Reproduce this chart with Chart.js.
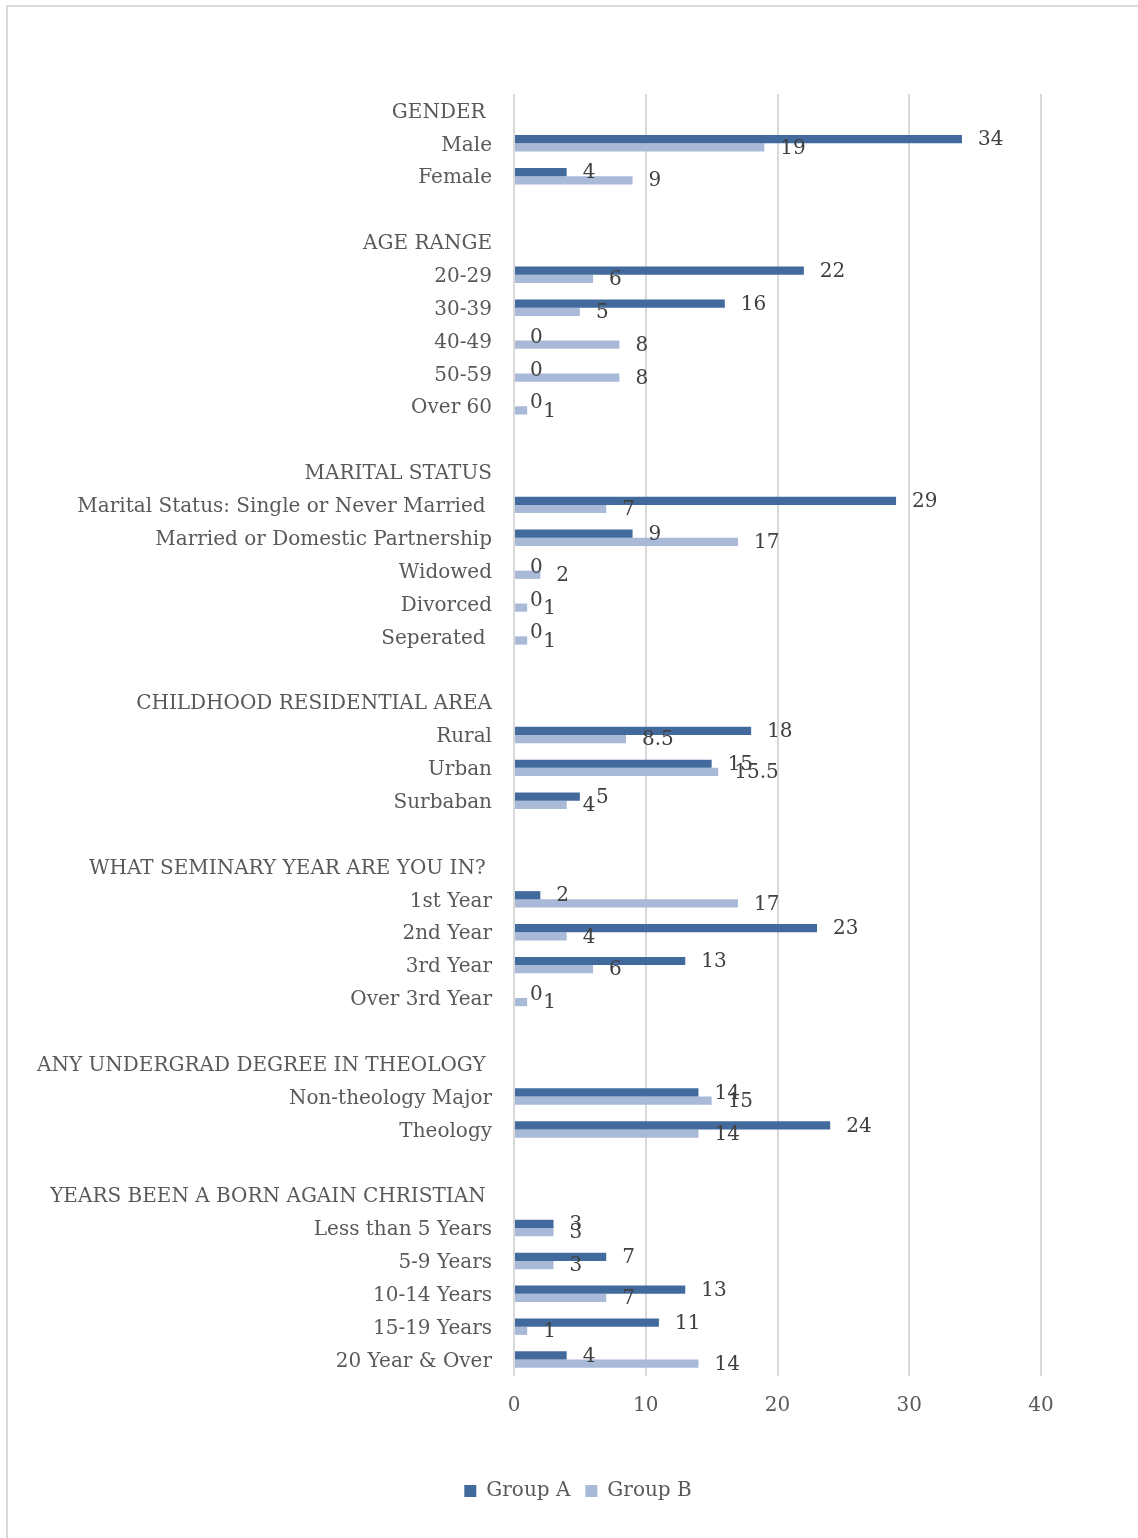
<!DOCTYPE html>
<html>
<head>
<meta charset="utf-8">
<script src="https://cdn.jsdelivr.net/npm/chart.js@4"></script>
<style>
  html, body { margin: 0; padding: 0; background: #fff; overflow: hidden; }
  #frame { position: absolute; left: 6px; top: 5px; width: 1160px; height: 1560px; border-left: 2px solid #d9d9d9; border-top: 2px solid #d9d9d9; }
  #wrap { position: absolute; left: 0; top: 0; width: 1156px; height: 1538px; }
</style>
</head>
<body>
<div id="frame"></div>
<div id="wrap"><canvas id="chart"></canvas></div>
<script>
// rows of the survey table, headers and blank spacer rows included
const categories = [
    'GENDER ', 'Male', 'Female', '',
    'AGE RANGE', '20-29', '30-39', '40-49', '50-59', 'Over 60', '',
    'MARITAL STATUS', 'Marital Status: Single or Never Married ', 'Married or Domestic Partnership', 'Widowed', 'Divorced', 'Seperated ', '',
    'CHILDHOOD RESIDENTIAL AREA', 'Rural', 'Urban', 'Surbaban', '',
    'WHAT SEMINARY YEAR ARE YOU IN? ', '1st Year', '2nd Year', '3rd Year', 'Over 3rd Year', '',
    'ANY UNDERGRAD DEGREE IN THEOLOGY ', 'Non-theology Major', 'Theology', '',
    'YEARS BEEN A BORN AGAIN CHRISTIAN ', 'Less than 5 Years', '5-9 Years', '10-14 Years', '15-19 Years', '20 Year & Over'
];
const groupA = [
    null, 34, 4, null,
    null, 22, 16, 0, 0, 0, null,
    null, 29, 9, 0, 0, 0, null,
    null, 18, 15, 5, null,
    null, 2, 23, 13, 0, null,
    null, 14, 24, null,
    null, 3, 7, 13, 11, 4
];
const groupB = [
    null, 19, 9, null,
    null, 6, 5, 8, 8, 1, null,
    null, 7, 17, 2, 1, 1, null,
    null, 8.5, 15.5, 4, null,
    null, 17, 4, 6, 1, null,
    null, 15, 14, null,
    null, 3, 3, 7, 1, 14
];
const xTicks = [0, 10, 20, 30, 40];

const FONT = '"DejaVu Serif", serif';

// value labels next to each bar end
const valueLabels = {
    id: 'valueLabels',
    afterDatasetsDraw(chart) {
        const ctx = chart.ctx;
        ctx.save();
        ctx.font = '20px ' + FONT;
        ctx.fillStyle = '#404040';
        ctx.textAlign = 'left';
        ctx.textBaseline = 'middle';
        chart.data.datasets.forEach((ds, i) => {
            chart.getDatasetMeta(i).data.forEach((bar, j) => {
                const v = ds.data[j];
                if (v === null || v === undefined) return;
                ctx.fillText(String(v), bar.x + 16, bar.y + 1);
            });
        });
        ctx.restore();
    }
};

// centre the legend under the whole frame, not just the left part
const legendCentre = {
    id: 'legendCentre',
    afterLayout(chart) {
        const lg = chart.legend;
        if (!lg) return;
        lg.left = 115;
        lg.right = 1041;
        lg.width = lg.right - lg.left;
    }
};

const ctx = document.getElementById('chart').getContext('2d');
new Chart(ctx, {
    type: 'bar',
    data: {
        labels: categories,
        datasets: [
            { label: 'Group A', data: groupA, backgroundColor: '#436a9d', borderWidth: 0 },
            { label: 'Group B', data: groupB, backgroundColor: '#a9b9d8', borderWidth: 0 }
        ]
    },
    options: {
        indexAxis: 'y',
        responsive: true,
        maintainAspectRatio: false,
        animation: false,
        categoryPercentage: 0.5,
        barPercentage: 1.0,
        layout: { padding: { top: 94, right: 115, bottom: 27, left: 0 } },
        scales: {
            x: {
                min: 0,
                max: 40,
                afterBuildTicks: scale => { scale.ticks = xTicks.map(v => ({ value: v })); },
                afterFit: scale => { scale.height = 90; },
                grid: { color: '#d9d9d9', lineWidth: 2, drawTicks: false },
                border: { display: false },
                ticks: { padding: 18, color: '#595959', font: { family: FONT, size: 20 } }
            },
            y: {
                afterFit: scale => { scale.width = 514; },
                grid: { display: false, drawTicks: false },
                border: { display: false },
                ticks: { autoSkip: false, padding: 22, labelOffset: 2, color: '#595959', font: { family: FONT, size: 20 } }
            }
        },
        plugins: {
            legend: {
                position: 'bottom',
                labels: {
                    boxWidth: 12,
                    boxHeight: 12,
                    padding: 15,
                    color: '#595959',
                    font: { family: FONT, size: 20 }
                }
            },
            tooltip: { enabled: false }
        }
    },
    plugins: [valueLabels, legendCentre]
});
</script>
</body>
</html>
